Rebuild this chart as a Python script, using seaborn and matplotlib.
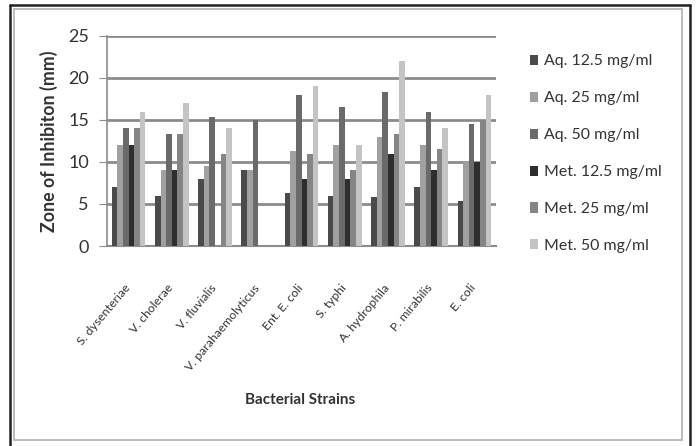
import matplotlib
matplotlib.use("Agg")
import matplotlib.pyplot as plt
import matplotlib.transforms as mtransforms
import seaborn as sns
import pandas as pd
from matplotlib.patches import Rectangle, Patch
from matplotlib.lines import Line2D

strains = ["S. dysenteriae", "V. cholerae", "V. fluvialis", "V. parahaemolyticus",
           "Ent. E. coli", "S. typhi", "A. hydrophila", "P. mirabilis", "E. coli"]
series = ["Aq. 12.5 mg/ml", "Aq. 25 mg/ml", "Aq. 50 mg/ml",
          "Met. 12.5 mg/ml", "Met. 25 mg/ml", "Met. 50 mg/ml"]
aq_125 = [7, 6, 8, 9, 6.3, 6, 5.8, 7, 5.3]
aq_25 = [12, 9, 9.5, 9, 11.3, 12, 13, 12, 10]
aq_50 = [14, 13.3, 15.3, 15, 18, 16.5, 18.3, 16, 14.5]
met_125 = [12, 9, 0, 0, 8, 8, 11, 9, 10]
met_25 = [14, 13.3, 11, 0, 11, 9, 13.3, 11.5, 15]
met_50 = [16, 17, 14, 0, 19, 12, 22, 14, 18]
colors = ["#4a4a4a", "#a0a0a0", "#6a6a6a", "#2e2e2e", "#858585", "#c4c4c4"]

rows = []
for name, vals in zip(series, [aq_125, aq_25, aq_50, met_125, met_25, met_50]):
    for s, v in zip(strains, vals):
        rows.append({"Strain": s, "Series": name, "Value": v})
df = pd.DataFrame(rows)

sns.set_style("white")
plt.rcParams["font.family"] = ["Lato", "DejaVu Sans"]

W, H = 697, 446
fig = plt.figure(figsize=(W / 100, H / 100), dpi=100)
ax = fig.add_axes([107 / W, 1 - 246 / H, (496 - 107) / W, (246 - 36) / H])

sns.barplot(data=df, x="Strain", y="Value", hue="Series", order=strains,
            hue_order=series, palette=colors, width=0.78, ax=ax,
            saturation=1, legend=False, edgecolor="none", zorder=3)

ax.set_ylim(0, 25)
ax.set_yticks([0, 5, 10, 15, 20, 25])
ax.yaxis.grid(True, color="#8c8c8c", linewidth=2.0, zorder=0)
ax.set_axisbelow(True)
for side in ["top", "right"]:
    ax.spines[side].set_visible(False)
ax.spines["left"].set_color("#8c8c8c")
ax.spines["bottom"].set_color("#8c8c8c")
ax.spines["left"].set_linewidth(1.2)
ax.spines["bottom"].set_linewidth(1.5)
ax.tick_params(axis="y", which="both", left=True, length=6, color="#8c8c8c",
               labelsize=13, labelcolor="#333333", pad=7)
ax.tick_params(axis="x", bottom=False, length=0, labelsize=8.8,
               labelcolor="#333333", pad=19)
shift = mtransforms.ScaledTranslation(-5 / 100, -10 / 100, fig.dpi_scale_trans)
for lab in ax.get_xticklabels():
    lab.set_rotation(50)
    lab.set_ha("right")
    lab.set_rotation_mode("anchor")
    lab.set_transform(lab.get_transform() + shift)

ax.set_ylabel("Zone of Inhibiton (mm)", fontsize=12.8, fontweight="bold",
              color="#333333")
ax.yaxis.set_label_coords(-(107 - 58) / 389, 0.5)
ax.set_xlabel("")
fig.text(300 / W, 1 - 400 / H, "Bacterial Strains", fontsize=11,
         fontweight="bold", color="#333333", ha="center", va="center")

handles = [Patch(facecolor=c, edgecolor="none") for c in colors]
fig.legend(handles, series, loc="upper left", bbox_to_anchor=(516 / W, 1 - 40 / H),
           frameon=False, fontsize=11.4, labelspacing=1.45, handlelength=0.5,
           handleheight=0.6, handletextpad=0.35, labelcolor="#333333")

# inner light chart-area border
fig.patches.append(Rectangle((14 / W, 1 - 440 / H), 668 / W, 431 / H,
                             transform=fig.transFigure, fill=False,
                             edgecolor="#b0b0b0", linewidth=1.2))
# outer dark frame (bottom edge runs off the image)
for xs, ys in [([10, 10], [5, 446]), ([690, 690], [5, 446]), ([10, 690], [5, 5])]:
    fig.lines.append(Line2D([x / W for x in xs], [1 - y / H for y in ys],
                            transform=fig.transFigure, color="#222222", linewidth=1.8))

fig.savefig("out.png", dpi=100)
